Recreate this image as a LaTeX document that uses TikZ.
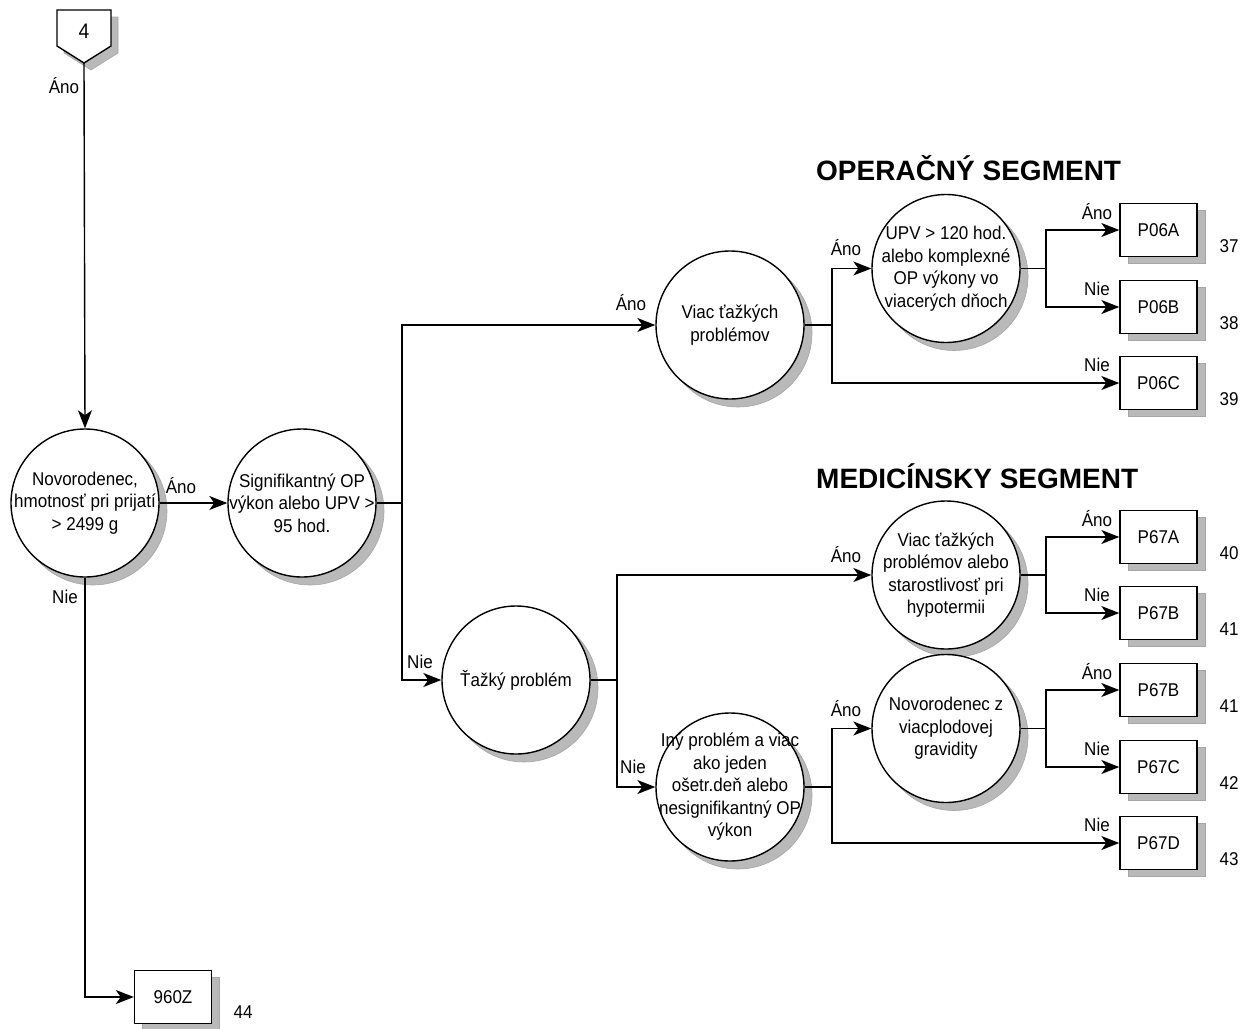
\documentclass[tikz,border=0pt]{standalone}
\usepackage{fontspec}
\setmainfont[FakeStretch=0.92]{Liberation Sans}
\newfontfamily\ttlfont{Liberation Sans}
\usetikzlibrary{arrows.meta}
\begin{document}
\begin{tikzpicture}[x=1pt,y=-1pt,
  every node/.style={font=\fontsize{18.5}{22.5}\selectfont},
  ln/.style={line width=1.4pt, line join=miter},
  arr/.style={ln,-{Stealth[length=18pt,width=14pt,inset=5pt]}},
  shdw/.style={fill=gray!55, draw=gray!70, line width=0.6pt},
  dec/.style={circle, draw, line width=1.4pt, fill=white, minimum size=148pt, inner sep=0pt},
  ctext/.style={align=center, inner sep=0pt},
  res/.style={rectangle, draw, line width=1.4pt, fill=white, minimum width=77pt, minimum height=53pt, inner sep=0pt},
  lab/.style={inner sep=0pt},
  num/.style={inner sep=0pt},
  ttl/.style={font=\ttlfont\fontsize{28}{32}\selectfont\bfseries, anchor=base west, inner sep=0pt}
]
\useasboundingbox (0,0) rectangle (1242,1028);

% shadows of circles (offset 8,8 from the centres)
\foreach \cx/\cy in {85/503, 302/503, 730/325, 946/268.5, 516/680, 946/575, 730/787, 946/728.5}
  \filldraw[shdw] (\cx+8,\cy+8) circle [radius=74pt];
% shadows of boxes
\foreach \yy in {230,307,383,537,613,690,767,843}
  \filldraw[shdw] (1128,\yy-19.5) rectangle (1205,\yy+33.5);
\filldraw[shdw] (142.5,977.5) rectangle (219.5,1030.5);

% entry connector
\filldraw[shdw] (64,17) -- (118,17) -- (118,53) -- (91,70) -- (64,53) -- cycle;
\draw[ln, fill=white] (57,10) -- (111,10) -- (111,46) -- (84,63) -- (57,46) -- cycle;
\node[font=\fontsize{21}{24}\selectfont] (p4) at (84,31) {4};
\coordinate (p4tip) at (84,63);

% titles
\node[ttl] (tOP) at (816,180) {OPERAČNÝ SEGMENT};
\node[ttl] (tMED) at (816,488) {MEDICÍNSKY SEGMENT};

% decision circles
\node[dec] (c1) at (85,503) {};
\node[ctext] (t1) at (c1) {Novorodenec,\\hmotnosť pri prijatí\\> 2499 g};
\node[dec] (c2) at (302,503) {};
\node[ctext] (t2) at (c2) {Signifikantný OP\\výkon alebo UPV >\\95 hod.};
\node[dec] (c3) at (730,325) {};
\node[ctext] (t3) at (c3) {Viac ťažkých\\problémov};
\node[dec] (c4) at (946,268.5) {};
\node[ctext] (t4) at (c4) {UPV > 120 hod.\\alebo komplexné\\OP výkony vo\\viacerých dňoch};
\node[dec] (c5) at (516,680) {};
\node[ctext] (t5) at (c5) {Ťažký problém};
\node[dec] (c6) at (946,575) {};
\node[ctext] (t6) at (c6) {Viac ťažkých\\problémov alebo\\starostlivosť pri\\hypotermii};
\node[dec] (c7) at (730,787) {};
\node[ctext] (t7) at (c7) {Iný problém a viac\\ako jeden\\ošetr.deň alebo\\nesignifikantný OP\\výkon};
\node[dec] (c8) at (946,728.5) {};
\node[ctext] (t8) at (c8) {Novorodenec z\\viacplodovej\\gravidity};

% result boxes
\node[res] (p06a) at (1158.5,230) {P06A};
\node[res] (p06b) at (1158.5,307) {P06B};
\node[res] (p06c) at (1158.5,383) {P06C};
\node[res] (p67a) at (1158.5,537) {P67A};
\node[res] (p67b) at (1158.5,613) {P67B};
\node[res] (p67bb) at (1158.5,690) {P67B};
\node[res] (p67c) at (1158.5,767) {P67C};
\node[res] (p67d) at (1158.5,843) {P67D};
\node[res] (z960) at (173,997) {960Z};

% numbers
\node[num] (n37) at (1229,246) {37};
\node[num] (n38) at (1229,323) {38};
\node[num] (n39) at (1229,399) {39};
\node[num] (n40) at (1229,553) {40};
\node[num] (n41) at (1229,629) {41};
\node[num] (n41b) at (1229,706) {41};
\node[num] (n42) at (1229,783) {42};
\node[num] (n43) at (1229,859) {43};
\node[num] (n44) at (243,1012) {44};

% junctions
\coordinate (j1) at (402,503);
\coordinate (j2) at (832,325);
\coordinate (j3) at (1046,268.5);
\coordinate (j4) at (617,680);
\coordinate (j5) at (1046,575);
\coordinate (j6) at (832,787);
\coordinate (j7) at (1046,728.5);

% connectors
\draw[arr] (p4tip) -- (c1.north);
\draw[arr] (c1.east) -- (c2.west);
\draw[arr] (c1.south) |- (z960.west);
\draw[ln] (c2.east) -- (j1);
\draw[arr] (j1) |- (c3.west);
\draw[arr] (j1) |- (c5.west);
\draw[ln] (c3.east) -- (j2);
\draw[arr] (j2) |- (c4.west);
\draw[arr] (j2) |- (p06c.west);
\draw[ln] (c4.east) -- (j3);
\draw[arr] (j3) |- (p06a.west);
\draw[arr] (j3) |- (p06b.west);
\draw[ln] (c5.east) -- (j4);
\draw[arr] (j4) |- (c6.west);
\draw[arr] (j4) |- (c7.west);
\draw[ln] (c6.east) -- (j5);
\draw[arr] (j5) |- (p67a.west);
\draw[arr] (j5) |- (p67b.west);
\draw[ln] (c7.east) -- (j6);
\draw[arr] (j6) |- (c8.west);
\draw[arr] (j6) |- (p67d.west);
\draw[ln] (c8.east) -- (j7);
\draw[arr] (j7) |- (p67bb.west);
\draw[arr] (j7) |- (p67c.west);

% connector labels
\node[lab] (l1) at (64,86) {Áno};
\node[lab] (l2) at (181,486) {Áno};
\node[lab] (l3) at (65,597) {Nie};
\node[lab] (l4) at (631,303) {Áno};
\node[lab] (l5) at (420,662) {Nie};
\node[lab] (l6) at (846,248) {Áno};
\node[lab] (l7) at (846,555) {Áno};
\node[lab] (l8) at (633,767) {Nie};
\node[lab] (l9) at (846,709) {Áno};
\node[lab] (l10) at (1097,212) {Áno};
\node[lab] (l11) at (1097,289) {Nie};
\node[lab] (l12) at (1097,365) {Nie};
\node[lab] (l13) at (1097,519) {Áno};
\node[lab] (l14) at (1097,595) {Nie};
\node[lab] (l15) at (1097,672) {Áno};
\node[lab] (l16) at (1097,749) {Nie};
\node[lab] (l17) at (1097,825) {Nie};
\end{tikzpicture}
\end{document}
